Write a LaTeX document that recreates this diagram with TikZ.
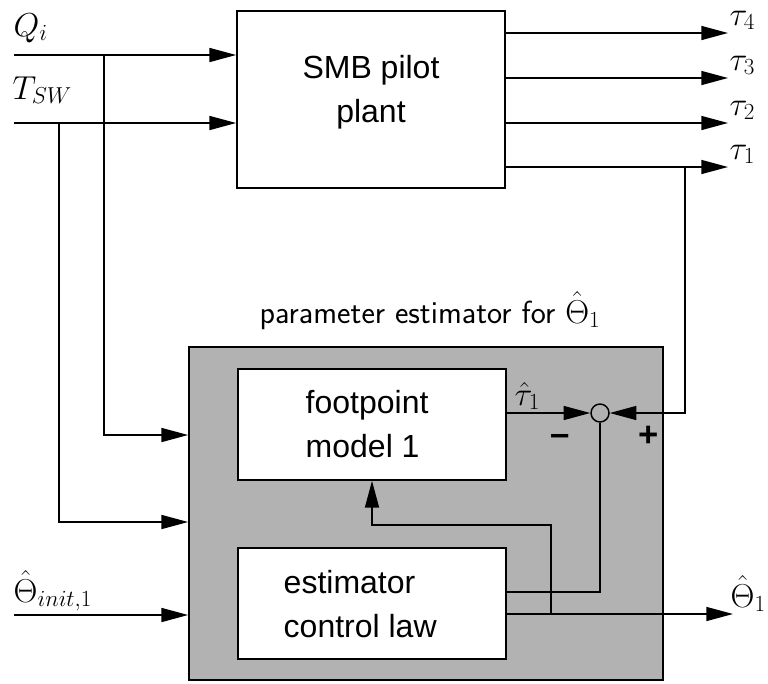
\documentclass[tikz,border=0pt]{standalone}
\usepackage{fontspec}
\newfontfamily\arialfont{Liberation Sans}
\usetikzlibrary{arrows.meta}
\begin{document}
\begin{tikzpicture}[x=0.75pt,y=-0.75pt,
  line width=1.1pt,
  arr/.style={-{Triangle[length=20pt,width=10.5pt]}},
  blk/.style={draw, line width=1.3pt, fill=white, inner sep=0pt, minimum width=201pt},
  lbl/.style={font=\fontsize{24}{33}\selectfont\arialfont, align=left, inner sep=0pt},
  mathlbl/.style={font=\fontsize{25}{30}\selectfont, inner sep=0pt, anchor=base west},
  sgn/.style={font=\fontsize{26}{26}\selectfont\arialfont\bfseries, inner sep=0pt}]
\useasboundingbox (0,0) rectangle (768,683);

% blocks
\node[blk, minimum height=133pt] (smb) at (371,99.5) {};
\node[draw, line width=1.3pt, fill=black!30, inner sep=0pt, minimum width=355.5pt, minimum height=249.75pt] (est) at (426,513.5) {};
\node[blk, minimum height=83.25pt] (fp) at (372,424.5) {};
\node[blk, minimum height=83.25pt] (ecl) at (372,603.5) {};
\node[draw, circle, inner sep=0pt, minimum size=13.5pt] (sum) at (600,413) {};

% block texts
\node[lbl, align=center] (smbtxt) at (371,92) {SMB pilot\\plant};
\node[lbl, anchor=west] (fptxt) at (305,424) {footpoint\\model 1};
\node[lbl, anchor=west] (ecltxt) at (283,604) {estimator\\control law};
\node[font=\fontsize{24}{28}\selectfont\sffamily, anchor=base, inner sep=0pt] (title) at (430,323) {parameter estimator for $\hat{\Theta}_1$};

% inputs
\coordinate (qin) at (14,55);
\coordinate (tin) at (14,123);
\draw[arr] (qin) -- (qin -| smb.west);
\draw[arr] (tin) -- (tin -| smb.west);
\node[mathlbl] (lq) at (13,36) {$Q_i$};
\node[mathlbl] (lt) at (12,99) {$T_{SW}$};

\coordinate (qb) at (104,55);
\coordinate (qe) at (104,435);
\draw[arr] (qb) -- (qe) -- (qe -| est.west);
\coordinate (tb) at (59,123);
\coordinate (te) at (59,522);
\draw[arr] (tb) -- (te) -- (te -| est.west);
\coordinate (thin) at (14,615);
\draw[arr] (thin) -- (thin -| est.west);
\node[mathlbl] (lth) at (13,602) {$\hat{\Theta}_{init,1}$};

% outputs
\foreach \y/\n in {33/4,78/3,123/2,167/1} {
  \coordinate (o\n) at (728,\y);
  \draw[arr] (o\n -| smb.east) -- (o\n);
  \node[mathlbl] (lo\n) at (729,\y-8) {$\tau_{\n}$};
}

% feedback to summing junction
\coordinate (fb) at (685,167);
\draw[arr] (fb) -- (fb |- sum) -- (sum.east);
\draw[arr] (sum.west -| fp.east) -- (sum.west);
\node[mathlbl] (ltau) at (514,405) {$\hat{\tau}_1$};
\node[sgn] (minus) at (560,440) {–};
\node[sgn] (plus) at (649,436) {+};

% junction to control law
\coordinate (cl) at (600,592);
\draw (sum.south) -- (cl) -- (cl -| ecl.east);

% output theta
\coordinate (out) at (733,614);
\draw[arr] (out -| ecl.east) -- (out);
\node[mathlbl] (lout) at (730,607) {$\hat{\Theta}_1$};

% branch back to footpoint model
\coordinate (b1) at (551,614);
\coordinate (b2) at (551,525);
\coordinate (b3) at (372,525);
\draw[arr] (b1) -- (b2) -- (b3) -- (fp.south);
\end{tikzpicture}
\end{document}
